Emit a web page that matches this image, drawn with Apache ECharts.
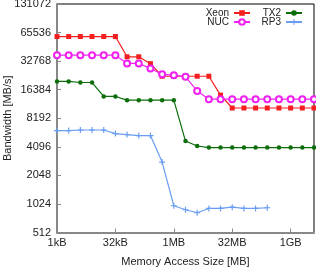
<!DOCTYPE html>
<html><head><meta charset="utf-8">
<script src="https://cdn.jsdelivr.net/npm/echarts@6/dist/echarts.min.js"></script>
<style>html,body{margin:0;padding:0;background:#fff}#c{width:316px;height:267px}</style>
</head><body><div id="c"></div>
<script>
const sizes = ['1kB','2kB','4kB','8kB','16kB','32kB','64kB','128kB','256kB','512kB',
  '1MB','2MB','4MB','8MB','16MB','32MB','64MB','128MB','256MB','512MB','1GB','2GB','4GB'];
const xLabels = ['1kB','32kB','1MB','32MB','1GB'];
const xeon = [59500,59500,59500,59500,59500,59500,36400,36400,30800,22700,22700,22700,22700,22700,14350,10500,10500,10500,10500,10500,10500,10500,10500];
const nuc = [37900,37900,37900,37900,37900,37900,31000,31000,27400,23800,23300,22400,15900,13000,13000,13000,13000,13000,13000,13000,13000,13000,13000];
const tx2 = [20000,20000,19500,19500,13900,13900,12700,12700,12700,12700,12700,4710,4180,4020,4020,4020,4020,4020,4020,4020,4020,4020,4020];
const rp3 = [6070,6070,6160,6160,6160,5650,5510,5380,5380,2830,980,889,827,918,918,947,918,918,934];
const yTicks = [512,1024,2048,4096,8192,16384,32768,65536,131072];

const font = 'Liberation Sans, Arial, sans-serif';
const chart = echarts.init(document.getElementById('c'), null, {renderer:'canvas'});
const plus = 'path://M4,0h2v4h4v2h-4v4h-2v-4h-4v-2h4z';
function ser(name, data, color, symbol, size, extra) {
  return Object.assign({
    name, type:'line', data, symbol, symbolSize:size, showSymbol:true, showAllSymbol:true,
    lineStyle:{color, width:1.2}, itemStyle:{color},
    animation:false, z:3
  }, extra||{});
}
const legendText = {fontSize:10, color:'#222', fontFamily:font, lineHeight:9};
chart.setOption({
  animation:false,
  textStyle:{fontFamily:font},
  grid:{left:57, right:2, top:4, bottom:34.5, outerBoundsMode:'none', containLabel:false,
    show:true, borderColor:'#000', borderWidth:1, backgroundColor:'transparent'},
  legend:[
    {data:['Xeon','NUC'], orient:'vertical', align:'right', right:65, top:8, padding:0,
     itemWidth:16, itemHeight:7, itemGap:-1, textStyle:legendText},
    {data:['TX2','RP3'], orient:'vertical', align:'right', right:13, top:8, padding:0,
     itemWidth:16, itemHeight:7, itemGap:-1, textStyle:legendText}
  ],
  xAxis:{
    type:'category', data:sizes, boundaryGap:false,
    name:'Memory Access Size [MB]', nameLocation:'middle', nameGap:24, nameMoveOverlap:false,
    nameTextStyle:{fontSize:11, color:'#222', fontFamily:font},
    axisLine:{lineStyle:{color:'#888', width:2}},
    axisTick:{inside:true, length:4, interval:4, lineStyle:{color:'#888'}},
    axisLabel:{interval:4, fontSize:11, color:'#222', margin:5, fontFamily:font,
      formatter:v => xLabels.includes(v) ? v : ''},
    splitLine:{show:false}
  },
  yAxis:{
    type:'log', logBase:2, min:yTicks[0], max:yTicks[yTicks.length-1],
    name:'Bandwidth [MB/s]', nameLocation:'middle', nameGap:44, nameMoveOverlap:false,
    nameTextStyle:{fontSize:11, color:'#222', fontFamily:font},
    axisLine:{show:true, lineStyle:{color:'#888', width:2}},
    axisTick:{show:true, inside:true, length:4, lineStyle:{color:'#888'}},
    axisLabel:{fontSize:11, color:'#222', margin:6, fontFamily:font,
      formatter:v => String(Math.round(v))},
    splitLine:{show:false}
  },
  series:[
    ser('Xeon', xeon, '#f41e1e', 'rect', 5),
    ser('NUC', nuc, '#f020f0', 'emptyCircle', 6, {itemStyle:{color:'#f020f0', borderWidth:1.2}}),
    ser('TX2', tx2, '#0b6e0b', 'circle', 4.5),
    ser('RP3', rp3, '#6a9ef2', plus, 6)
  ]
});
</script></body></html>
